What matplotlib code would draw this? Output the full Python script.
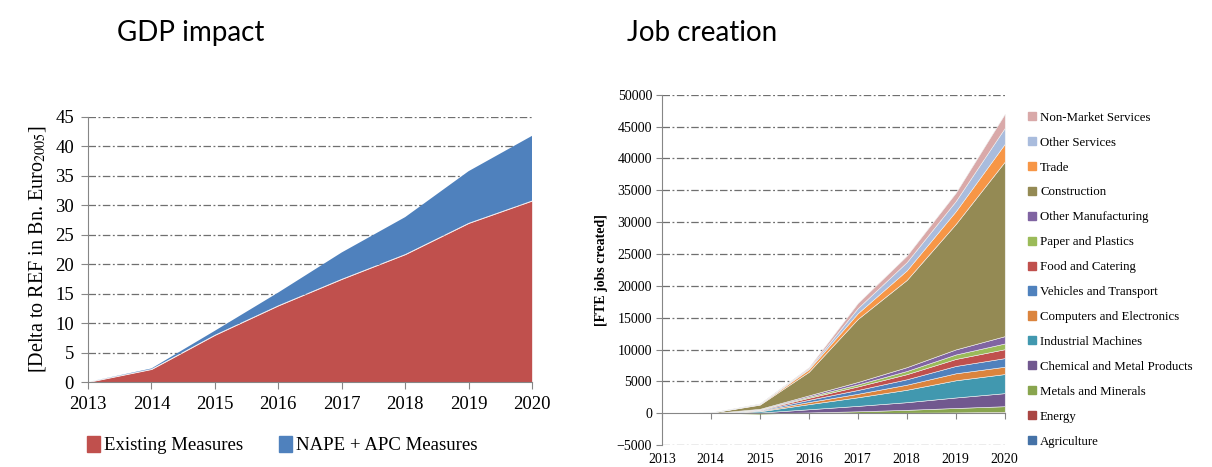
import matplotlib.pyplot as plt
import numpy as np
from matplotlib.patches import Patch

plt.rcParams['font.family'] = ['Liberation Serif', 'DejaVu Serif']
plt.rcParams['mathtext.fontset'] = 'stix'

years = [2013, 2014, 2015, 2016, 2017, 2018, 2019, 2020]

# GDP impact, Bn. Euro 2005
existing = [0, 2.2, 8.0, 13.0, 17.5, 21.7, 27.0, 30.8]
nape_apc = [0, 0.1, 0.7, 2.2, 4.5, 6.3, 8.8, 11.0]

# Job creation by sector (FTE), bottom to top
sectors = ['Agriculture', 'Energy', 'Metals and Minerals', 'Chemical and Metal Products',
           'Industrial Machines', 'Computers and Electronics', 'Vehicles and Transport',
           'Food and Catering', 'Paper and Plastics', 'Other Manufacturing', 'Construction',
           'Trade', 'Other Services', 'Non-Market Services']
agriculture = [0, 0, -50, 0, 0, 0, 0, -50]
energy = [0, 0, 0, 20, 50, 80, 120, 200]
metals = [0, 0, -150, 100, 250, 450, 700, 900]
chemical = [0, 0, 100, 500, 850, 1200, 1650, 2050]
industrial = [0, 0, 200, 800, 1350, 1950, 2700, 3000]
computers = [0, 0, 80, 330, 550, 800, 1100, 1150]
vehicles = [0, 0, 100, 350, 600, 850, 1150, 1350]
food = [0, 0, 80, 320, 550, 800, 1100, 1400]
paper = [0, 0, 50, 180, 320, 500, 700, 900]
other_manuf = [0, 0, 80, 200, 380, 600, 800, 1150]
construction = [0, 80, 650, 3700, 9900, 13700, 19700, 27400]
trade = [0, 10, 80, 400, 900, 1500, 2000, 2800]
other_services = [0, 0, 50, 150, 800, 1300, 1600, 2500]
non_market = [0, 0, 50, 150, 800, 1000, 1300, 2200]

job_series = [agriculture, energy, metals, chemical, industrial, computers, vehicles,
              food, paper, other_manuf, construction, trade, other_services, non_market]
job_colors = ['#4572A7', '#AA4643', '#89A54E', '#71588F', '#4198AF', '#DB843D', '#4F81BD',
              '#C0504D', '#9BBB59', '#8064A2', '#948A54', '#F79646', '#A9BCDD', '#D9A9A9']

fig = plt.figure(figsize=(12.12, 4.67), dpi=100)

grid_style = dict(color='#6f6f6f', linewidth=0.9, dashes=(6, 2, 1.5, 2))

# ---- GDP impact ----
ax1 = fig.add_axes([0.0726, 0.182, 0.3664, 0.5675])
x = np.array(years)
ex = np.array(existing)
tot = ex + np.array(nape_apc)
ax1.fill_between(x, 0, ex, color='#C0504D', edgecolor='white', linewidth=0.5, zorder=2)
ax1.fill_between(x, ex, tot, color='#4F81BD', edgecolor='none', zorder=2)
ax1.set_xlim(2013, 2020)
ax1.set_ylim(0, 45)
ax1.set_yticks(range(0, 46, 5))
ax1.set_xticks(years)
for v in range(5, 46, 5):
    ax1.axhline(v, zorder=1, **grid_style)
for s in ['top', 'right']:
    ax1.spines[s].set_visible(False)
for s in ['left', 'bottom']:
    ax1.spines[s].set_color('#868686')
ax1.tick_params(labelsize=13.5, color='#868686', length=5, pad=5)
ax1.set_ylabel(r'[Delta to REF in Bn. Euro$_{\mathrm{2005}}$]', fontsize=14.5, labelpad=5)
ax1.legend(handles=[Patch(color='#C0504D', label='Existing Measures'),
                    Patch(color='#4F81BD', label='NAPE + APC Measures')],
           loc='upper left', bbox_to_anchor=(-0.04, -0.14), ncol=2, frameon=False,
           fontsize=13.5, handlelength=0.7, handleheight=0.9, handletextpad=0.2,
           columnspacing=1.9)
fig.text(0.157, 0.93, 'GDP impact', fontsize=20, family='Lato', va='center', ha='center')

# ---- Job creation ----
ax2 = fig.add_axes([0.546, 0.047, 0.283, 0.75])
pos_base = np.zeros(len(years))
neg_base = np.zeros(len(years))
for vals, col in zip(job_series, job_colors):
    v = np.array(vals, dtype=float)
    p = np.clip(v, 0, None)
    n = np.clip(v, None, 0)
    ax2.fill_between(x, pos_base, pos_base + p, color=col, edgecolor='#f0f0f0',
                     linewidth=0.4, zorder=2)
    ax2.fill_between(x, neg_base, neg_base + n, color=col, edgecolor='none', zorder=2)
    pos_base = pos_base + p
    neg_base = neg_base + n
ax2.set_xlim(2013, 2020)
ax2.set_ylim(-5000, 50000)
ax2.set_yticks(range(-5000, 50001, 5000))
ax2.set_xticks(years)
for v in range(-5000, 50001, 5000):
    if v != 0:
        ax2.axhline(v, zorder=1, **grid_style)
for s in ['top', 'right']:
    ax2.spines[s].set_visible(False)
for s in ['left', 'bottom']:
    ax2.spines[s].set_color('#868686')
ax2.spines['bottom'].set_position(('data', 0))
ax2.tick_params(axis='x', labelsize=10, color='#868686', length=4, pad=25)
ax2.tick_params(axis='y', labelsize=10, color='#868686', length=4, pad=3)
ax2.set_ylabel('[FTE jobs created]', fontsize=10, fontweight='bold', labelpad=6)
handles = [Patch(color=c, label=n) for n, c in zip(sectors, job_colors)][::-1]
ax2.legend(handles=handles, loc='upper left', bbox_to_anchor=(1.035, 0.985), frameon=False,
           fontsize=9.3, handlelength=0.6, handleheight=0.6, handletextpad=0.3,
           labelspacing=1.0)
fig.text(0.579, 0.93, 'Job creation', fontsize=20, family='Lato', va='center', ha='center')

fig.savefig('out.png', dpi=100)
